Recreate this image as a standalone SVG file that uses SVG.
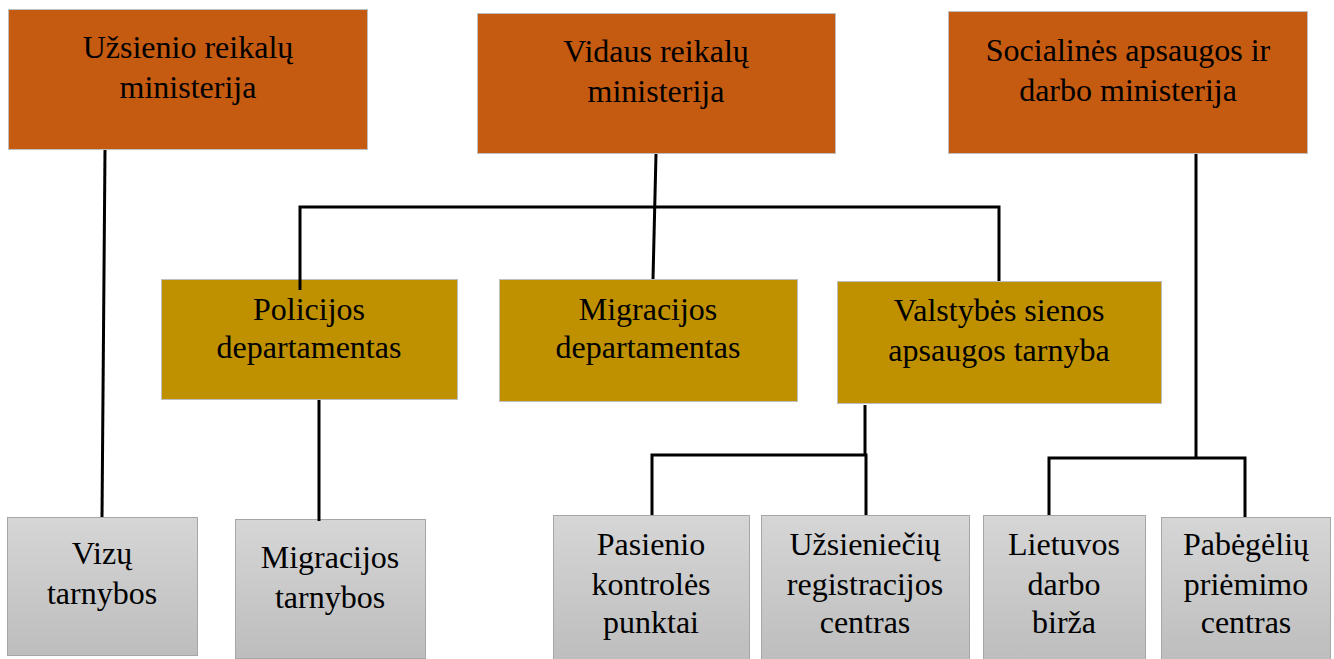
<svg xmlns="http://www.w3.org/2000/svg" width="1334" height="659" viewBox="0 0 1334 659">
<defs>
<linearGradient id="gGray" x1="0" y1="0" x2="0" y2="1">
<stop offset="0" stop-color="#D6D6D6"/>
<stop offset="1" stop-color="#BDBDBD"/>
</linearGradient>
</defs>
<style>
.top{fill:#C55A11;stroke:#BFBFBF;stroke-width:1}
.mid{fill:#BF9000;stroke:#BFBFBF;stroke-width:1}
.low{fill:url(#gGray);stroke:#A6A6A6;stroke-width:1}
text{font-family:"Liberation Serif","Times New Roman",serif;font-size:32px;fill:#000;text-anchor:middle}
.c{stroke:#000;stroke-width:3;fill:none}
</style>
<rect width="1334" height="659" fill="#fff"/>
<g id="n-ur"><rect class="top" x="8.5" y="9.5" width="359" height="140"/><text x="188" y="58">Užsienio reikalų</text><text x="188" y="98">ministerija</text></g>
<g id="n-vr"><rect class="top" x="477.5" y="13.5" width="358" height="140"/><text x="656" y="62">Vidaus reikalų</text><text x="656" y="102">ministerija</text></g>
<g id="n-sa"><rect class="top" x="948.5" y="11.5" width="359" height="142"/><text x="1128" y="61">Socialinės apsaugos ir</text><text x="1128" y="101">darbo ministerija</text></g>
<g id="n-pd"><rect class="mid" x="161.5" y="279.5" width="296" height="120"/><text x="309" y="320">Policijos</text><text x="309" y="358">departamentas</text></g>
<g id="n-md"><rect class="mid" x="499.5" y="279.5" width="298" height="122"/><text x="648" y="320">Migracijos</text><text x="648" y="358">departamentas</text></g>
<g id="n-vs"><rect class="mid" x="837.5" y="281.5" width="324" height="122"/><text x="999" y="321">Valstybės sienos</text><text x="999" y="361">apsaugos tarnyba</text></g>
<g id="n-vt"><rect class="low" x="7.5" y="517.5" width="190" height="138"/><text x="102" y="564">Vizų</text><text x="102" y="604">tarnybos</text></g>
<g id="n-mt"><rect class="low" x="235.5" y="519.5" width="190" height="139"/><text x="330" y="568">Migracijos</text><text x="330" y="608">tarnybos</text></g>
<g id="n-pk"><rect class="low" x="553.5" y="515.5" width="196" height="146"/><text x="651" y="555">Pasienio</text><text x="651" y="595">kontrolės</text><text x="651" y="633">punktai</text></g>
<g id="n-ur2"><rect class="low" x="761.5" y="515.5" width="208" height="146"/><text x="865" y="555">Užsieniečių</text><text x="865" y="595">registracijos</text><text x="865" y="633">centras</text></g>
<g id="n-ld"><rect class="low" x="983.5" y="515.5" width="162" height="146"/><text x="1064" y="555">Lietuvos</text><text x="1064" y="595">darbo</text><text x="1064" y="633">birža</text></g>
<g id="n-pp"><rect class="low" x="1161.5" y="517.5" width="169" height="144"/><text x="1246" y="555">Pabėgėlių</text><text x="1246" y="595">priėmimo</text><text x="1246" y="633">centras</text></g>
<g id="connectors">
<path class="c" d="M105 150 L102 517"/>
<path class="c" d="M656 154 L653 279"/>
<path class="c" d="M300 290 V207 H999 V281"/>
<path class="c" d="M319 400 V521"/>
<path class="c" d="M865 405 V455"/>
<path class="c" d="M652 515 V455 H866 V515"/>
<path class="c" d="M1196 154 V458"/>
<path class="c" d="M1049 515 V458 H1245 V517"/>
</g>
</svg>
